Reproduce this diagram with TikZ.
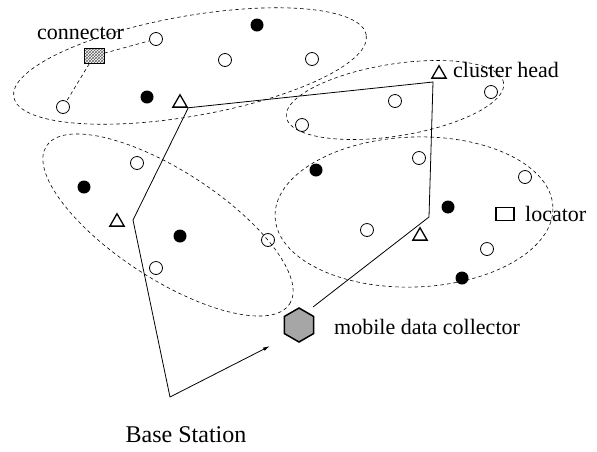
\documentclass[tikz,border=0pt]{standalone}
\usepackage{fontspec}
\setmainfont{Liberation Serif}
\usetikzlibrary{shapes.geometric,patterns,arrows.meta}
\begin{document}
\begin{tikzpicture}[x=1pt,y=-1pt,
  opn/.style={circle,draw,line width=0.8pt,minimum size=13pt,inner sep=0pt},
  fld/.style={circle,fill,minimum size=13pt,inner sep=0pt},
  tri/.style={regular polygon,regular polygon sides=3,draw,line width=1.3pt,minimum size=16.5pt,inner sep=0pt},
  region/.style={line width=0.6pt,dash pattern=on 3.5pt off 3pt},
  link/.style={line width=0.8pt},
  lbl/.style={font=\fontsize{22}{24}\selectfont,inner sep=0pt},
  biglbl/.style={font=\fontsize{24}{28}\selectfont,inner sep=0pt}]
\useasboundingbox (0,0) rectangle (597,451);

% cluster regions
\draw[region, rotate around={10:(190,66)}] (190,66) ellipse [x radius=179pt, y radius=50pt];
\draw[region, rotate around={9:(395,100)}] (395,100) ellipse [x radius=110pt, y radius=36pt];
\draw[region, rotate around={-33:(168,225)}] (168,225) ellipse [x radius=145pt, y radius=54pt];
\draw[region, rotate around={2:(414,212)}] (414,212) ellipse [x radius=139pt, y radius=75pt];

% filled nodes
\node[fld] (f1) at (257,25) {};
\node[fld] (f2) at (147,97) {};
\node[fld] (f3) at (84,187) {};
\node[fld] (f4) at (180,236) {};
\node[fld] (f5) at (316,170) {};
\node[fld] (f6) at (448,207) {};
\node[fld] (f7) at (462,278) {};

% open nodes
\node[opn] (o1) at (156,39) {};
\node[opn] (o2) at (225,60) {};
\node[opn] (o3) at (312,59) {};
\node[opn] (o4) at (63,107) {};
\node[opn] (o5) at (395,101) {};
\node[opn] (o6) at (491,92) {};
\node[opn] (o7) at (302,125) {};
\node[opn] (o8) at (137,163) {};
\node[opn] (o9) at (419,158) {};
\node[opn] (o10) at (525,177) {};
\node[opn] (o11) at (268,240) {};
\node[opn] (o12) at (156,268) {};
\node[opn] (o13) at (367,230) {};
\node[opn] (o14) at (487,249) {};

% cluster heads
\node[tri] (t1) at (180,103) {};
\node[tri] (t2) at (439,74) {};
\node[tri] (t3) at (117,222) {};
\node[tri] (t4) at (420,236) {};

% connector, locator, mobile data collector
\node[draw,line width=0.5pt,pattern=crosshatch,pattern color=black!60,minimum width=20pt,minimum height=15pt,inner sep=0pt] (conn) at (94,56) {};
\node[draw,line width=1.2pt,minimum width=18pt,minimum height=13pt,inner sep=0pt] (loc) at (505,214) {};
\node[regular polygon,regular polygon sides=6,rotate=30,draw,line width=1.5pt,fill=gray!70,minimum size=34pt,inner sep=0pt] (mdc) at (299,325) {};

% dashed links from connector
\draw[region] (conn) -- (o1);
\draw[region] (conn) -- (o4);

% tour of the mobile data collector
\coordinate (p0) at (313,307);
\coordinate (p1) at (429,217);
\coordinate (p2) at (433,82);
\coordinate (p3) at (133,220);
\coordinate (p4) at (170,397);
\coordinate (p5) at (270,346);
\draw[link] (p0) -- (p1) -- (p2) -- (t1.corner 3) -- (p3) -- (p4);
\draw[link,-{Latex[length=7pt,width=3.5pt]}] (p4) -- (p5);

% labels
\node[lbl,anchor=base west] (lc) at (37,39) {connector};
\node[lbl,anchor=base west] (lh) at (453,77) {cluster head};
\node[lbl,anchor=base west] (ll) at (525,221) {locator};
\node[lbl,anchor=base west] (lm) at (334,334) {mobile data collector};
\node[biglbl,anchor=base] (lb) at (186,442) {Base Station};
\end{tikzpicture}
\end{document}
